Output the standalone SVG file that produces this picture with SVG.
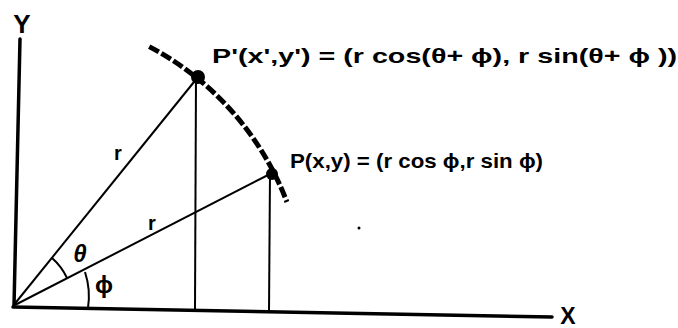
<svg xmlns="http://www.w3.org/2000/svg" width="678" height="328" viewBox="0 0 678 328">
<style>
text{font-family:"Liberation Sans",Arial,sans-serif;font-weight:bold;fill:#000}
.ax{stroke:#000;stroke-width:3.5;fill:none;stroke-linecap:round}
.ln{stroke:#000;stroke-width:2;fill:none}
.dash{stroke:#000;stroke-width:5;fill:none;stroke-dasharray:11 3}
</style>
<rect width="678" height="328" fill="#fff"/>
<g id="axes">
<line class="ax" x1="20" y1="39" x2="14" y2="306"/>
<line class="ax" x1="13" y1="307" x2="552" y2="317"/>
<text x="22" y="33" font-size="26" text-anchor="middle">Y</text>
<text x="568" y="324" font-size="23" text-anchor="middle">X</text>
</g>
<g id="connectors">
<line class="ln" x1="13" y1="306" x2="198" y2="77"/>
<line class="ln" x1="13" y1="306" x2="272" y2="173"/>
<line class="ln" x1="196" y1="77" x2="195" y2="310"/>
<line class="ln" x1="270" y1="173" x2="269" y2="312"/>
<path class="dash" d="M149.2,46.6 A293,293 0 0 1 286.9,202"/>
<path class="ln" d="M52,258 A61,61 0 0 1 67,278"/>
<path class="ln" d="M85,272 A78,78 0 0 1 88,308"/>
</g>
<g id="Pprime">
<circle cx="198" cy="77" r="7"/>
<text x="212" y="63" font-size="21" textLength="465" lengthAdjust="spacingAndGlyphs">P'(x',y') = (r cos(θ+ ϕ), r sin(θ+ ϕ ))</text>
</g>
<g id="P">
<circle cx="272" cy="174" r="6"/>
<text x="290" y="168" font-size="21" textLength="253" lengthAdjust="spacingAndGlyphs">P(x,y) = (r cos ϕ,r sin ϕ)</text>
</g>
<g id="labels">
<text x="118" y="160" font-size="20" text-anchor="middle">r</text>
<text x="152" y="230" font-size="20" text-anchor="middle">r</text>
<text x="80" y="262" font-size="24" text-anchor="middle" font-style="italic">θ</text>
<text x="104" y="293" font-size="24" text-anchor="middle">ϕ</text>
</g>
<circle cx="359" cy="228" r="1.5"/>
</svg>
